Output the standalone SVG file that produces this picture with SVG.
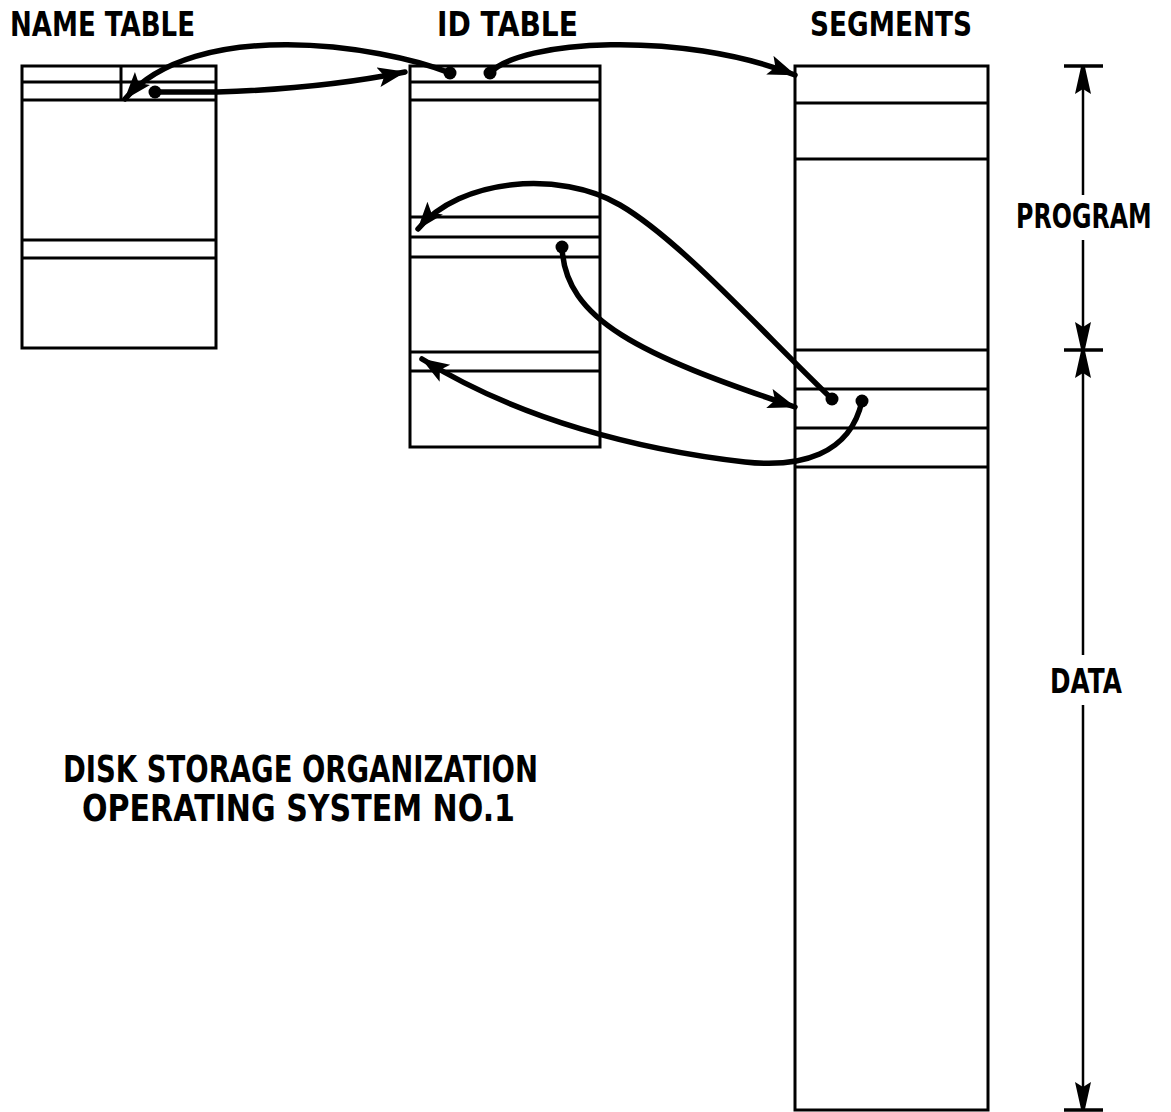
<svg xmlns="http://www.w3.org/2000/svg" width="1171" height="1112" viewBox="0 0 1171 1112">
  <style>
    .box { fill: none; stroke: #000; stroke-width: 3; }
    .row { stroke: #000; stroke-width: 3; fill: none; }
    .conn { fill: none; stroke: #000; stroke-width: 5.5; stroke-linecap: round; }
    .dim { fill: none; stroke: #000; stroke-width: 2.5; }
    .tick { stroke: #000; stroke-width: 3.5; }
    .dot { fill: #000; }
    .lbl { font-family: "DejaVu Sans", "Liberation Sans", sans-serif; font-weight: bold; fill: #000; }
  </style>
  <defs>
    <marker id="arr" markerUnits="userSpaceOnUse" markerWidth="30" markerHeight="22" refX="27" refY="10" orient="auto">
      <path d="M0,0 L28,10 L0,20 L6,10 z" fill="#000"/>
    </marker>
    <marker id="darr" markerUnits="userSpaceOnUse" markerWidth="30" markerHeight="18" refX="27" refY="8" orient="auto">
      <path d="M0,0 L27,6 L27,10 L0,16 L5,8 z" fill="#000"/>
    </marker>
  </defs>
  <rect width="1171" height="1112" fill="#fff"/>

  <g id="title-labels">
    <text class="lbl" x="10" y="36" font-size="33" textLength="185" lengthAdjust="spacingAndGlyphs">NAME TABLE</text>
    <text class="lbl" x="437" y="36" font-size="33" textLength="141" lengthAdjust="spacingAndGlyphs">ID TABLE</text>
    <text class="lbl" x="810" y="36" font-size="33" textLength="162" lengthAdjust="spacingAndGlyphs">SEGMENTS</text>
  </g>

  <g id="name-table">
    <rect class="box" x="22" y="66" width="194" height="282"/>
    <line class="row" x1="22" y1="82" x2="216" y2="82"/>
    <line class="row" x1="22" y1="100" x2="216" y2="100"/>
    <line class="row" x1="121" y1="66" x2="121" y2="100"/>
    <line class="row" x1="22" y1="240" x2="216" y2="240"/>
    <line class="row" x1="22" y1="258" x2="216" y2="258"/>
  </g>

  <g id="id-table">
    <rect class="box" x="410" y="66" width="190" height="381"/>
    <line class="row" x1="410" y1="82" x2="600" y2="82"/>
    <line class="row" x1="410" y1="100" x2="600" y2="100"/>
    <line class="row" x1="410" y1="217" x2="600" y2="217"/>
    <line class="row" x1="410" y1="237" x2="600" y2="237"/>
    <line class="row" x1="410" y1="257" x2="600" y2="257"/>
    <line class="row" x1="410" y1="352" x2="600" y2="352"/>
    <line class="row" x1="410" y1="371" x2="600" y2="371"/>
  </g>

  <g id="segments">
    <rect class="box" x="795" y="66" width="193" height="1044"/>
    <line class="row" x1="795" y1="103" x2="988" y2="103"/>
    <line class="row" x1="795" y1="159" x2="988" y2="159"/>
    <line class="row" x1="795" y1="350" x2="988" y2="350"/>
    <line class="row" x1="795" y1="389" x2="988" y2="389"/>
    <line class="row" x1="795" y1="428" x2="988" y2="428"/>
    <line class="row" x1="795" y1="467" x2="988" y2="467"/>
  </g>

  <g id="connectors">
    <path class="conn" d="M155,92 L217,92 C285,90 345,84 405,72" marker-end="url(#arr)"/>
    <path class="conn" d="M450,73 C380,45 195,17 125,99" marker-end="url(#arr)"/>
    <path class="conn" d="M490,73 C520,40 680,30 795,75" marker-end="url(#arr)"/>
    <path class="conn" d="M832,399 C760,330 680,240 620,205 C560,170 460,178 418,229" marker-end="url(#arr)"/>
    <path class="conn" d="M562,247 C565,320 640,355 795,407" marker-end="url(#arr)"/>
    <path class="conn" d="M862,401 C850,455 800,468 745,462 C640,450 520,420 422,359" marker-end="url(#arr)"/>
    <circle class="dot" cx="155" cy="92" r="6.5"/>
    <circle class="dot" cx="450" cy="73" r="6.5"/>
    <circle class="dot" cx="490" cy="73" r="6.5"/>
    <circle class="dot" cx="562" cy="247" r="6.5"/>
    <circle class="dot" cx="832" cy="399" r="6.5"/>
    <circle class="dot" cx="862" cy="401" r="6.5"/>
  </g>

  <g id="dimension">
    <line class="tick" x1="1064" y1="66" x2="1103" y2="66"/>
    <line class="tick" x1="1064" y1="350" x2="1103" y2="350"/>
    <line class="tick" x1="1064" y1="1110" x2="1103" y2="1110"/>
    <path class="dim" d="M1083,195 L1083,67" marker-end="url(#darr)"/>
    <path class="dim" d="M1083,240 L1083,349" marker-end="url(#darr)"/>
    <path class="dim" d="M1083,655 L1083,351" marker-end="url(#darr)"/>
    <path class="dim" d="M1083,705 L1083,1109" marker-end="url(#darr)"/>
    <text class="lbl" transform="translate(1016 228) scale(0.72 1)" x="0" y="0" font-size="33">PROGRAM</text>
    <text class="lbl" x="1050" y="693" font-size="34" textLength="72" lengthAdjust="spacingAndGlyphs">DATA</text>
  </g>

  <g id="caption">
    <text class="lbl" x="63" y="782" font-size="37" textLength="475" lengthAdjust="spacingAndGlyphs">DISK STORAGE ORGANIZATION</text>
    <text class="lbl" x="82" y="821" font-size="37" textLength="433" lengthAdjust="spacingAndGlyphs">OPERATING SYSTEM NO.1</text>
  </g>
</svg>
